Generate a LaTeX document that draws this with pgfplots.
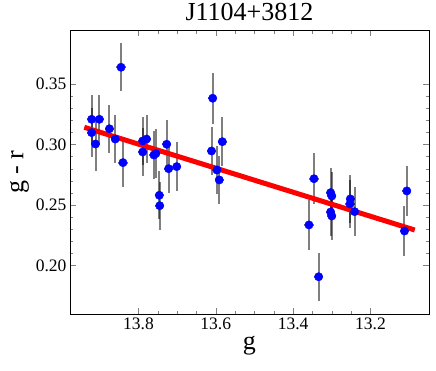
\documentclass[border=0pt]{standalone}
\usepackage{fontspec}
\setmainfont{Liberation Serif}
\usepackage{pgfplots}
\pgfplotsset{compat=1.18}

\pgfplotstableread{
g      y      eg     ey
13.921 0.3208 0.012 0.020
13.901 0.3208 0.012 0.020
13.921 0.3098 0.012 0.020
13.911 0.3004 0.012 0.022
13.875 0.3130 0.012 0.020
13.860 0.3045 0.012 0.020
13.845 0.3638 0.012 0.020
13.840 0.2850 0.012 0.020
13.789 0.3029 0.012 0.020
13.779 0.3045 0.012 0.020
13.789 0.2938 0.012 0.020
13.760 0.2913 0.012 0.020
13.755 0.2925 0.012 0.020
13.727 0.3002 0.012 0.020
13.722 0.2800 0.012 0.020
13.701 0.2817 0.012 0.020
13.746 0.2580 0.012 0.020
13.745 0.2494 0.012 0.020
13.608 0.3382 0.012 0.021
13.611 0.2946 0.012 0.020
13.597 0.2789 0.012 0.020
13.591 0.2707 0.012 0.020
13.583 0.3023 0.012 0.020
13.346 0.2717 0.012 0.021
13.359 0.2335 0.012 0.021
13.334 0.1907 0.012 0.020
13.303 0.2602 0.012 0.020
13.300 0.2574 0.012 0.020
13.303 0.2442 0.012 0.020
13.300 0.2409 0.012 0.020
13.252 0.2550 0.012 0.020
13.253 0.2508 0.012 0.020
13.241 0.2445 0.012 0.020
13.106 0.2616 0.012 0.021
13.112 0.2285 0.012 0.021
}\colors

\begin{document}
\begin{tikzpicture}
\begin{axis}[
    at={(0,0)}, anchor=south west,
    scale only axis,
    width=359pt, height=284pt,
    x dir=reverse,
    xmin=13.0486, xmax=13.977,
    ymin=0.1599, ymax=0.3946,
    xtick={13.2,13.4,13.6,13.8},
    ytick={0.20,0.25,0.30,0.35},
    minor x tick num=3,
    minor y tick num=4,
    tick align=inside,
    major tick length=6pt,
    minor tick length=3.5pt,
    scaled ticks=false,
    axis line style={line width=0.9pt},
    /pgf/number format/assume math mode=true,
    xticklabel style={/pgf/number format/fixed, /pgf/number format/fixed zerofill, /pgf/number format/precision=1},
    yticklabel style={/pgf/number format/fixed, /pgf/number format/fixed zerofill, /pgf/number format/precision=2},
    tick label style={font=\fontsize{17.5}{18}\selectfont},
    title={J1104+3812},
    title style={font=\fontsize{26}{28}\selectfont},
    xlabel={g},
    ylabel={g - r},
    label style={font=\fontsize{26}{28}\selectfont},
]

\addplot[only marks, mark=*, mark size=4.2pt,
    mark options={fill=blue, draw=blue},
    error bars/.cd,
    x dir=both, x explicit,
    y dir=both, y explicit,
    error mark=none,
    error bar style={line width=2pt, black, draw opacity=0.5}]
    table[x=g, y=y, x error=eg, y error=ey] {\colors};

\addplot[red, line width=5pt] coordinates {(13.940,0.3142) (13.0855,0.2293)};

\end{axis}
\pgfresetboundingbox
\useasboundingbox (-70pt,-56pt) rectangle (366pt,314pt);
\end{tikzpicture}
\end{document}
